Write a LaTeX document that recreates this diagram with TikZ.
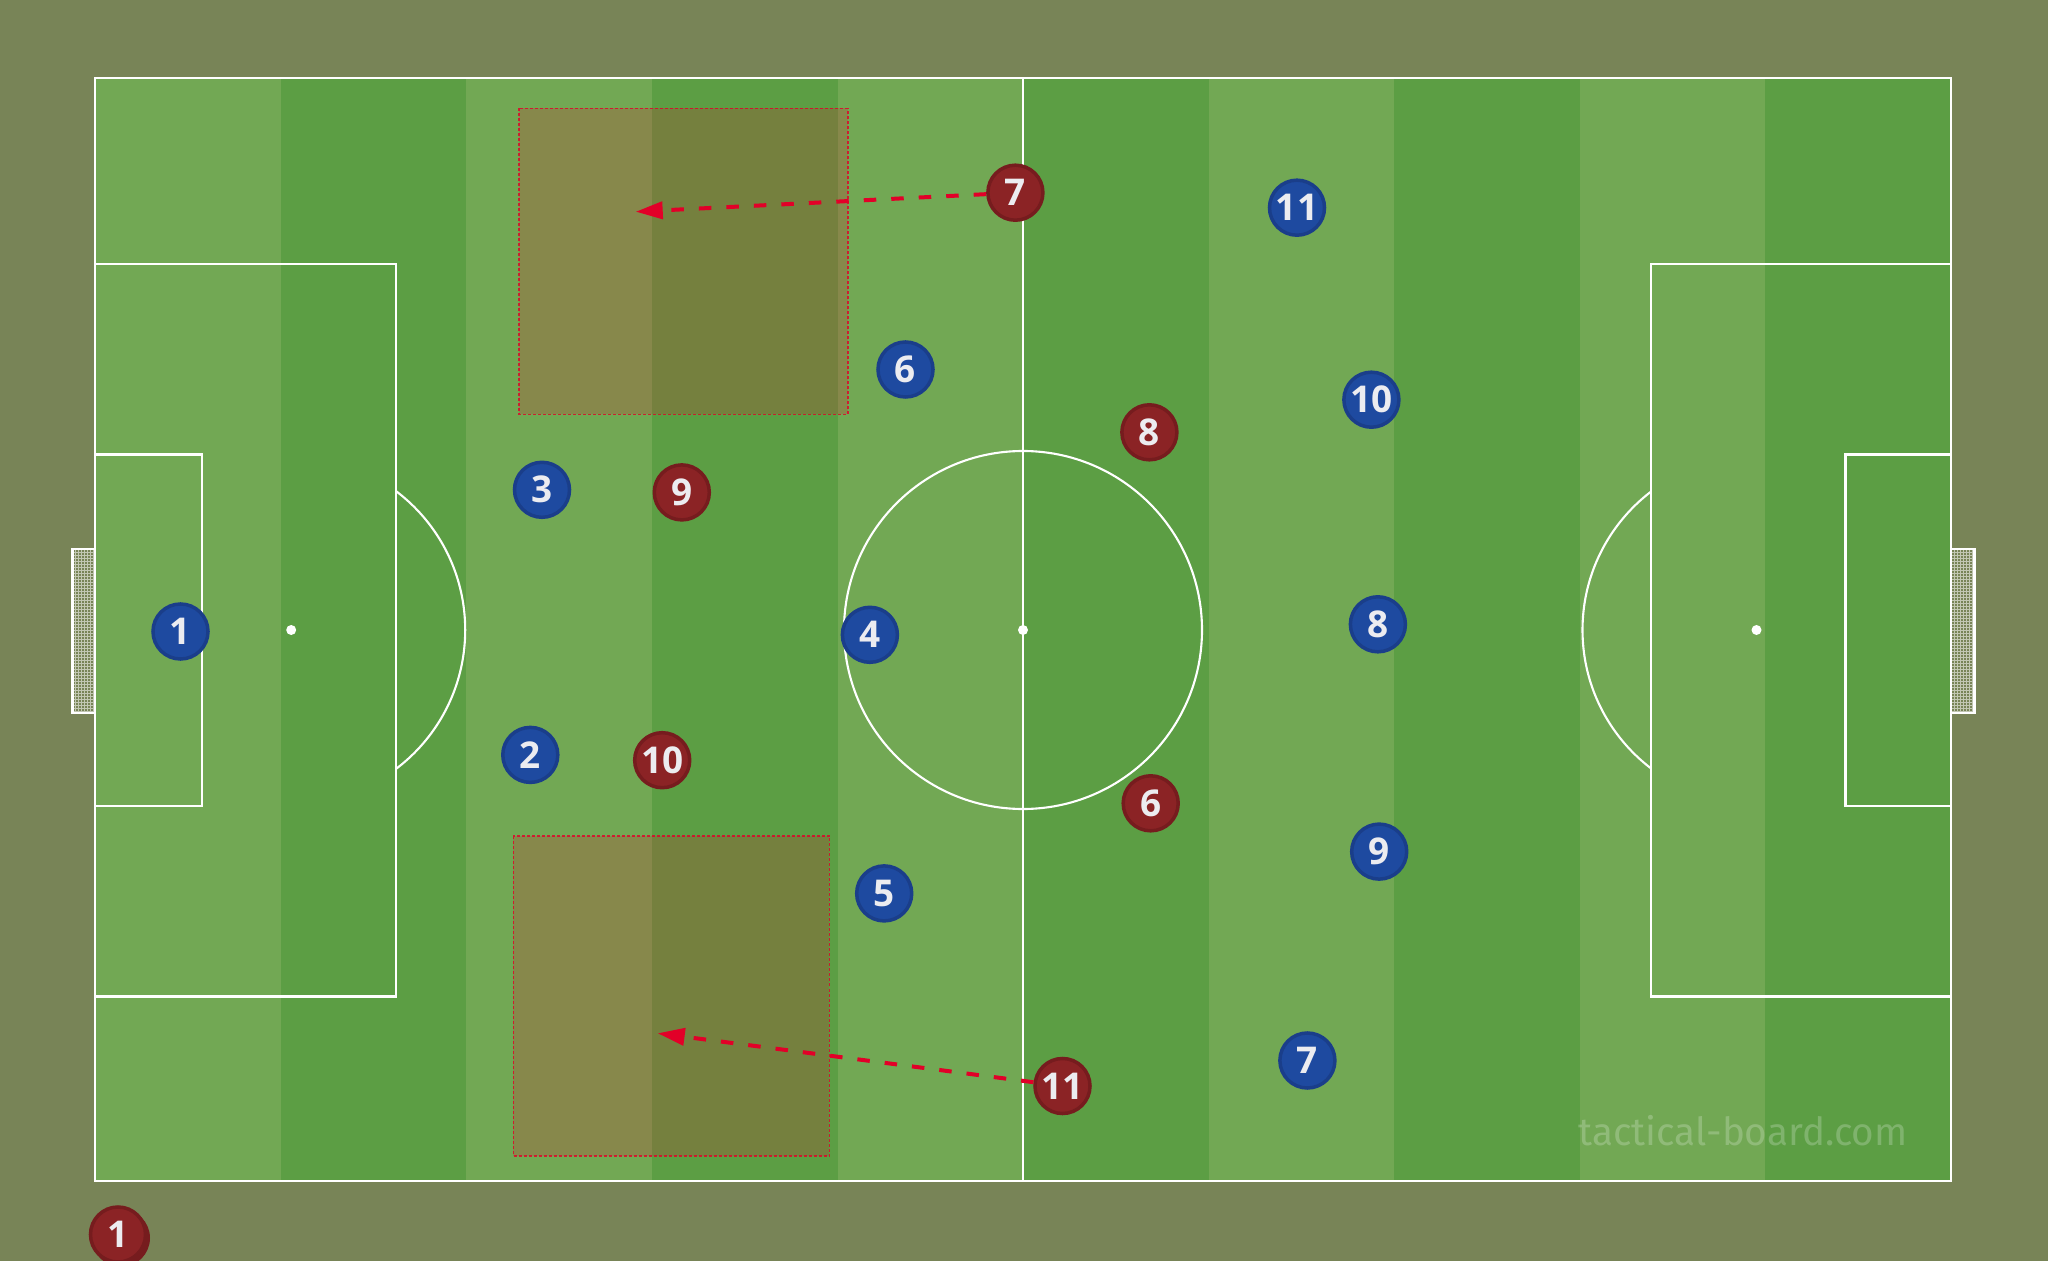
\documentclass[tikz,border=0pt]{standalone}
\usepackage{fontspec}
\setmainfont{Open Sans}
\newfontfamily\markfont{Fira Sans}
\usetikzlibrary{arrows.meta}
\definecolor{bgolive}{RGB}{120,132,87}
\definecolor{grasslight}{RGB}{114,168,84}
\definecolor{grassdark}{RGB}{92,158,68}
\definecolor{teamblue}{RGB}{30,74,160}
\definecolor{teamblueedge}{RGB}{26,62,138}
\definecolor{teamred}{RGB}{139,35,37}
\definecolor{teamrededge}{RGB}{118,28,30}
\definecolor{runred}{RGB}{226,0,40}
\definecolor{numwhite}{RGB}{236,236,240}
\tikzset{
  pitchline/.style={white, line width=0.6pt},
  player/.style={circle, minimum size=0.55cm, inner sep=0pt, line width=0.035cm,
    text=numwhite, font=\fontsize{10.5}{12}\selectfont\bfseries},
  blueplayer/.style={player, fill=teamblue, draw=teamblueedge},
  redplayer/.style={player, fill=teamred, draw=teamrededge},
  zone/.style={fill=runred, fill opacity=0.19, draw=runred, draw opacity=0.8,
    line width=0.3pt, dash pattern=on 0.03cm off 0.02cm},
  run/.style={runred, line width=0.04cm, dash pattern=on 0.125cm off 0.15cm,
    -{Triangle[length=0.27cm,width=0.17cm]}}
}
\begin{document}
\begin{tikzpicture}[x={(0.01cm,0)}, y={(0,-0.01cm)}]
\useasboundingbox (0,0) rectangle (2048,1261);
\fill[bgolive] (0,0) rectangle (2048,1261);
% grass stripes
\foreach \i in {0,...,9} {
  \pgfmathsetmacro{\xa}{95.3+185.57*\i}
  \pgfmathsetmacro{\xb}{95.3+185.57*(\i+1)}
  \ifodd\i \fill[grassdark] (\xa,78.4) rectangle (\xb,1180.6);
  \else \fill[grasslight] (\xa,78.4) rectangle (\xb,1180.6); \fi
}
% goals
\fill[bgolive] (72,549) rectangle (95.3,713);
\draw[white, opacity=0.55, line width=0.25pt, step=0.03cm] (72,549) grid (95.3,713);
\draw[white, line width=0.6pt] (95.3,549) -- (72.5,549) -- (72.5,713) -- (95.3,713);
\fill[bgolive] (1951,549) rectangle (1975,713);
\draw[white, opacity=0.55, line width=0.25pt, step=0.03cm] (1951,549) grid (1975,713);
\draw[white, line width=0.6pt] (1951,549) -- (1974.5,549) -- (1974.5,713) -- (1951,713);
% pitch markings
\draw[pitchline] (95.3,78.4) rectangle (1951,1180.6);
\draw[pitchline] (1023,78.4) -- (1023,1180.6);
\draw[pitchline] (1023,630) circle (179);
\fill[white] (1023,630) circle (5);
\draw[pitchline] (95.3,263.8) rectangle (395.7,996.5);
\draw[pitchline] (95.3,454.5) rectangle (202.4,805.8);
\fill[white] (291.2,630) circle (5);
\draw[pitchline] (1650.6,263.8) rectangle (1951,996.5);
\draw[pitchline] (1845.5,454.5) rectangle (1951,805.8);
\fill[white] (1756.5,630) circle (5);
\begin{scope}
  \clip (395.7,0) rectangle (700,1261);
  \draw[pitchline] (291.2,630) circle (174);
\end{scope}
\begin{scope}
  \clip (1350,0) rectangle (1650.6,1261);
  \draw[pitchline] (1756.5,630) circle (174);
\end{scope}
% zones
\draw[zone] (519,108.3) rectangle (848,414.3);
\draw[zone] (513.3,836) rectangle (829.3,1156);
% watermark
\node[white, opacity=0.22, font=\markfont\fontsize{11}{13}\selectfont] (mark) at (1743,1131) {tactical-board.com};
% blue team
\node[blueplayer] (b1) at (180.5,631.5) {1};
\node[blueplayer] (b2) at (530.3,754.9) {2};
\node[blueplayer] (b3) at (542,489.8) {3};
\node[blueplayer] (b4) at (869.9,634.8) {4};
\node[blueplayer] (b5) at (884.2,893.4) {5};
\node[blueplayer] (b6) at (905.5,369.5) {6};
\node[blueplayer] (b7) at (1307.4,1060.5) {7};
\node[blueplayer] (b8) at (1377.9,624.3) {8};
\node[blueplayer] (b9) at (1379.2,851.6) {9};
\node[blueplayer] (b10) at (1371.4,399.7) {10};
\node[blueplayer] (b11) at (1297,207.7) {11};
% red team
\fill[teamrededge] (121,1238) circle (29);
\node[redplayer] (r1) at (118,1234.5) {1};
\node[redplayer] (r6) at (1150.7,803.3) {6};
\node[redplayer] (r7) at (1015.4,192.7) {7};
\node[redplayer] (r8) at (1149.4,432.3) {8};
\node[redplayer] (r9) at (681.8,492.4) {9};
\node[redplayer] (r10) at (662.2,760.2) {10};
\node[redplayer] (r11) at (1062.5,1086) {11};
% runs
\coordinate (top run) at (635.7,211.7);
\coordinate (low run) at (657.7,1033.3);
\draw[run] (r7) -- (top run);
\draw[run] (r11) -- (low run);
\end{tikzpicture}
\end{document}
